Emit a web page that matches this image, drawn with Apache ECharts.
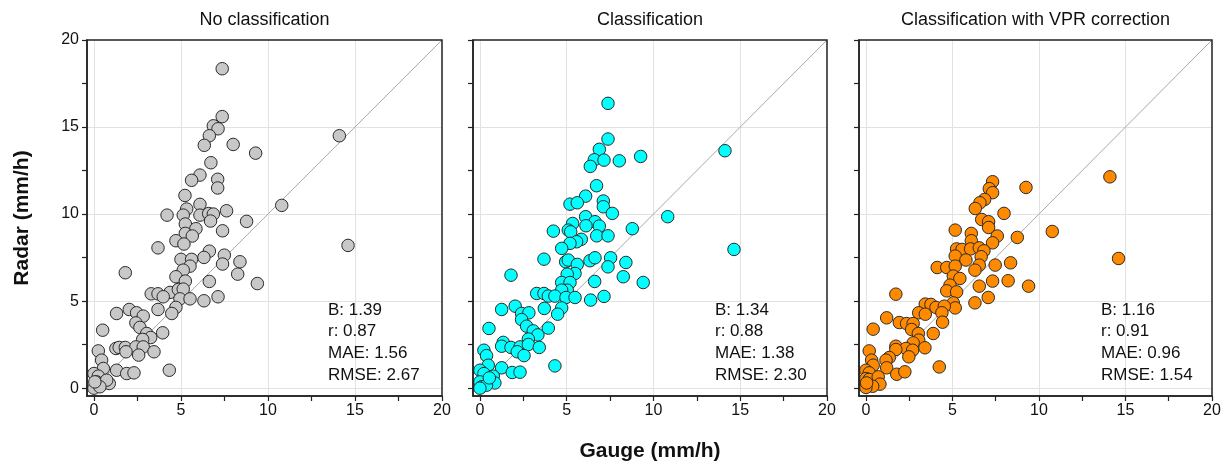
<!DOCTYPE html>
<html><head><meta charset="utf-8">
<script src="https://cdn.jsdelivr.net/npm/echarts@6/dist/echarts.min.js"></script>
<style>html,body{margin:0;padding:0;background:#fff}#c{width:1225px;height:464px}</style>
</head><body><div id="c"></div>
<script>
const panelTitles = ['No classification', 'Classification', 'Classification with VPR correction'];
const xTickValues = [0, 2.5, 5, 7.5, 10, 12.5, 15, 17.5, 20];
const labelValues = [0, 5, 10, 15, 20];
const gridValues = [0, 5, 10, 15];

const pointsNoClass = [[7.37,18.35],[7.37,15.6],[6.86,15.07],[7.13,14.9],[6.63,14.5],[6.34,13.95],[8.0,14.0],[9.29,13.5],[6.72,12.95],[6.09,12.24],[5.61,11.94],[7.11,12.0],[7.11,11.5],[5.23,11.07],[6.09,10.56],[5.33,10.29],[7.62,10.19],
[4.2,9.94],[5.13,9.94],[6.09,9.94],[6.59,10.03],[6.86,10.0],[6.7,9.6],[8.77,9.58],[7.39,9.04],[5.25,9.43],[5.86,9.16],[5.25,8.89],[5.65,8.74],[4.71,8.47],[5.17,8.28],[3.68,8.06],[6.63,7.87],[7.49,7.64],[6.32,7.51],[5.0,7.4],[5.61,7.4],[5.52,7.01],[5.13,6.78],[8.39,7.26],[7.39,7.13],[1.8,6.63],[8.26,6.55],[9.39,6.01],[4.71,6.4],[5.25,6.15],[6.63,6.13],[4.37,5.5],[4.85,5.67],[5.13,5.69],[3.29,5.42],[3.68,5.42],[3.98,5.25],[4.94,5.13],[5.52,5.13],[6.32,5.02],[7.13,5.25],[3.68,4.52],[4.71,4.64],[4.47,4.29],[2.03,4.52],[2.45,4.33],[1.3,4.29],[2.83,4.14],[2.41,3.75],[2.64,3.49],[0.5,3.33],[3.03,3.14],[3.95,3.18],[3.26,2.91],[2.8,2.8],[1.26,2.28],[1.45,2.34],[1.8,2.34],[2.41,2.37],[2.83,2.37],[2.57,1.9],[1.84,2.09],[3.45,2.09],[0.25,2.14],[0.44,1.61],[0.54,1.13],[1.3,1.03],[1.88,0.84],[2.3,0.88],[4.33,1.03],[0.0,0.84],[0.25,0.69],[0.15,0.36],[0.44,0.23],[0.88,0.27],[0.73,0.46],[0.0,0.0],[0.34,0.08],[0.05,0.36],
[14.1,14.5],[10.79,10.5],[14.6,8.2]];

const pointsClass = [[7.38,16.36],[7.38,14.31],[6.88,13.72],[6.59,13.12],[7.15,13.1],[8.03,13.06],[9.26,13.31],[6.36,12.74],[6.72,11.63],[6.09,11.03],[5.19,10.57],[5.61,10.65],[7.11,10.75],[7.11,10.42],[7.63,10.04],[6.09,9.85],[6.63,9.56],[6.88,9.31],[6.11,9.33],[5.34,9.46],[5.09,9.08],[4.23,9.02],[5.23,8.98],[6.73,8.75],[7.38,8.75],[8.78,9.16],[5.84,8.55],[5.57,8.41],[5.19,8.32],[4.71,8.03],[3.69,7.41],[4.94,7.26],[5.09,7.36],[5.61,7.11],[6.34,7.32],[6.63,7.49],[7.53,7.49],[7.38,6.97],[8.41,7.22],[1.79,6.49],[5.48,6.59],[5.03,6.55],[8.26,6.4],[9.41,6.07],[6.61,6.13],[4.71,6.07],[5.19,6.07],[5.03,5.63],[4.71,5.63],[3.27,5.44],[3.69,5.44],[3.94,5.29],[4.32,5.29],[4.96,5.21],[5.48,5.21],[6.38,5.06],[7.15,5.27],[1.25,4.52],[2.03,4.71],[2.4,4.29],[2.82,4.33],[3.71,4.58],[4.71,4.61],[4.48,4.25],[2.4,3.94],[2.69,3.56],[3.07,3.29],[3.34,3.06],[3.94,3.45],[0.52,3.43],[2.79,2.82],[1.34,2.63],[1.25,2.41],[1.79,2.34],[2.31,2.37],[2.79,2.51],[3.42,2.34],[2.15,2.09],[2.54,1.87],[0.23,2.18],[0.38,1.87],[0.48,1.32],[1.25,1.17],[1.86,0.9],[2.31,0.92],[4.32,1.28],[0.0,1.03],[0.23,0.84],[0.77,0.69],[0.86,0.3],[0.0,0.36],[0.1,0.08],[0.38,0.17],[0.0,0.0],[0.54,0.59],
[14.12,13.64],[10.82,9.85],[14.64,7.97]];

const pointsVPR = [[7.32,11.86],[7.13,11.46],[7.32,11.23],[6.86,10.84],[6.59,10.65],[6.32,10.32],[9.25,11.53],[7.98,10.04],[6.69,9.69],[7.09,9.56],[7.09,9.23],[5.16,9.08],[6.09,8.89],[7.59,8.74],[8.75,8.66],[6.09,8.47],[7.32,8.35],[5.24,8.0],[5.55,7.97],[6.05,8.0],[6.55,8.06],[6.82,7.89],[5.16,7.59],[6.66,7.55],[5.78,7.36],[8.36,7.2],[7.47,7.07],[4.12,6.93],[4.67,6.93],[5.16,7.01],[6.55,7.07],
[5.05,6.44],[5.43,6.3],[6.3,6.78],[6.55,5.86],[7.32,6.15],[8.22,6.17],[9.4,5.86],[4.86,5.92],[4.67,5.59],[5.24,5.53],[1.73,5.4],[6.3,4.9],[7.07,5.21],[5.05,4.9],[5.16,4.61],[3.43,4.83],[3.76,4.81],[4.05,4.64],[4.53,4.71],[4.39,4.33],[3.05,4.33],[3.43,4.25],[1.2,4.04],[1.93,3.77],[2.35,3.71],[2.73,3.71],[2.64,3.37],[3.03,3.14],[0.42,3.39],[4.43,3.79],[3.89,3.14],[3.05,2.76],[2.73,2.6],[1.73,2.41],[2.31,2.28],[2.7,2.18],[3.41,2.32],[2.48,1.8],[1.73,2.22],[0.19,2.14],[1.35,1.76],[1.16,1.61],[0.33,1.61],[0.42,1.32],[1.2,1.17],[1.78,0.8],[2.25,0.94],[4.24,1.22],[0.0,1.03],[0.19,0.88],[0.0,0.55],[0.19,0.5],[0.71,0.65],[0.81,0.23],[0.39,0.11],[0.0,0.04],[0.04,0.3],
[14.1,12.14],[10.77,9.0],[14.6,7.45]];

const statsNoClass = ['B: 1.39', 'r: 0.87', 'MAE: 1.56', 'RMSE: 2.67'];
const statsClass = ['B: 1.34', 'r: 0.88', 'MAE: 1.38', 'RMSE: 2.30'];
const statsVPR = ['B: 1.16', 'r: 0.91', 'MAE: 0.96', 'RMSE: 1.54'];

const identityLine = [[0, 0], [20, 20]];
const pointSets = [pointsNoClass, pointsClass, pointsVPR];
const statSets = [statsNoClass, statsClass, statsVPR];
const colors = ['#c8c8c8', '#00ffff', '#ff8a00'];

const FONT = '"Liberation Sans", Arial, sans-serif';
const grids = [
  {left: 87, top: 40, width: 355, height: 356},
  {left: 473, top: 40, width: 354, height: 356},
  {left: 859, top: 40, width: 353, height: 356}
];

const chart = echarts.init(document.getElementById('c'), null, {renderer: 'canvas'});
const xAxes = [], yAxes = [], series = [], graphics = [];
grids.forEach((g, i) => {
  g.show = true; g.borderColor = '#222'; g.borderWidth = 1.5; g.backgroundColor = 'transparent'; g.z = 20;
  xAxes.push({
    gridIndex: i, type: 'value', min: -0.4, max: 20, z: 20,
    axisLine: {show: true, onZero: false, lineStyle: {color: '#222', width: 1.5}},
    axisTick: {show: true, length: 5, customValues: xTickValues, lineStyle: {color: '#222', width: 1.2}},
    axisLabel: {customValues: labelValues, color: '#111', fontSize: 16, fontFamily: FONT, margin: 7},
    splitLine: {show: false}
  });
  yAxes.push({
    gridIndex: i, type: 'value', min: -0.45, max: 20, z: 20,
    axisLine: {show: true, onZero: false, lineStyle: {color: '#222', width: 1.5}},
    axisTick: {show: true, length: 5, customValues: xTickValues, lineStyle: {color: '#222', width: 1.2}},
    axisLabel: {show: i === 0, customValues: labelValues, color: '#111', fontSize: 16, fontFamily: FONT, margin: 8},
    splitLine: {show: false}
  });
  const ml = gridValues.map(v => ({xAxis: v})).concat(gridValues.map(v => ({yAxis: v})));
  series.push({
    type: 'line', xAxisIndex: i, yAxisIndex: i, data: identityLine, symbol: 'none', z: 2,
    lineStyle: {color: '#a8a8a8', width: 1}, silent: true, animation: false,
    markLine: {silent: true, symbol: 'none', label: {show: false}, animation: false, z: 1,
      lineStyle: {color: '#e2e2e2', width: 1, type: 'solid'}, data: ml}
  });
  series.push({
    type: 'scatter', xAxisIndex: i, yAxisIndex: i, data: pointSets[i], z: 10,
    symbol: 'circle', symbolSize: 12.5, animation: false,
    itemStyle: {color: colors[i], borderColor: '#2a2a2a', borderWidth: 1, opacity: 1}
  });
  graphics.push({
    type: 'text', x: g.left + g.width / 2, y: 20, z: 50,
    style: {text: panelTitles[i], font: '18px ' + FONT, fill: '#111', align: 'center', verticalAlign: 'middle'}
  });
  const sx = [328, 715, 1101][i];
  statSets[i].forEach((s, k) => {
    graphics.push({
      type: 'text', x: sx, y: 310 + k * 21.7, z: 50,
      style: {text: s, font: '17px ' + FONT, fill: '#111', align: 'left', verticalAlign: 'middle'}
    });
  });
});
graphics.push({type: 'text', x: 22, y: 218, rotation: Math.PI / 2, z: 50,
  style: {text: 'Radar (mm/h)', font: 'bold 21px ' + FONT, fill: '#111', align: 'center', verticalAlign: 'middle'}});
graphics.push({type: 'text', x: 650, y: 451, z: 50,
  style: {text: 'Gauge (mm/h)', font: 'bold 21px ' + FONT, fill: '#111', align: 'center', verticalAlign: 'middle'}});

chart.setOption({
  animation: false,
  backgroundColor: '#fff',
  grid: grids, xAxis: xAxes, yAxis: yAxes, series: series, graphic: graphics
});
</script></body></html>
